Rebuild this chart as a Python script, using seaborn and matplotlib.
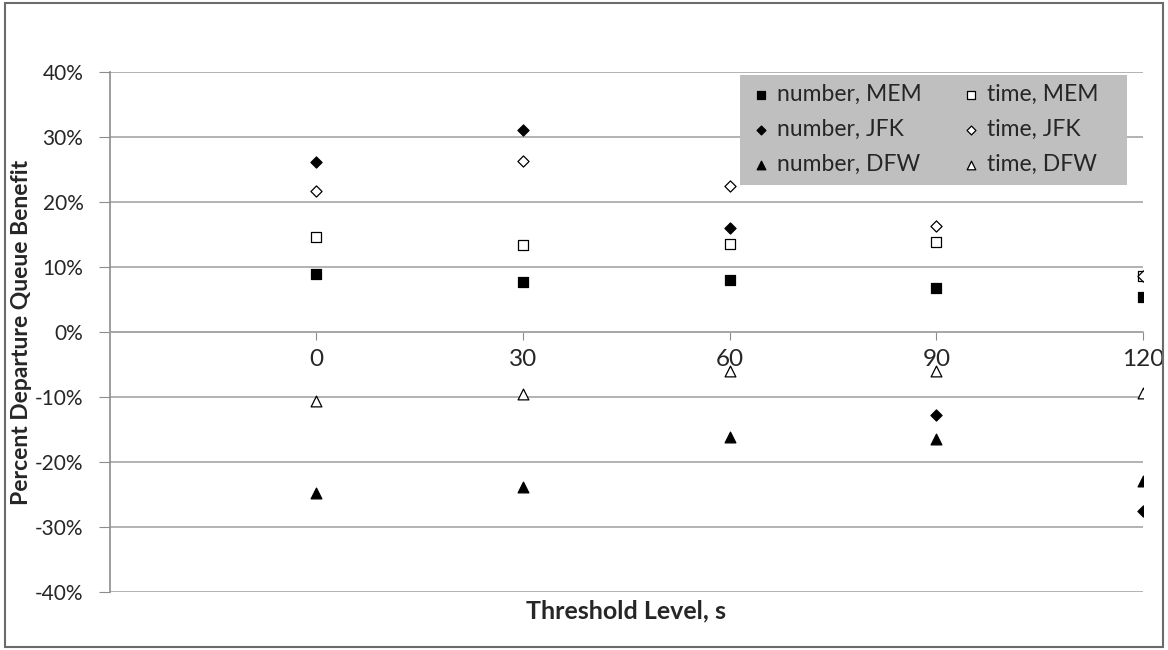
import pandas as pd
import seaborn as sns
from matplotlib import pyplot as plt
from matplotlib import ticker
from matplotlib.patches import Rectangle

# threshold levels (s)
thresholds = [0, 30, 60, 90, 120]

# percent departure queue benefit
number_mem = [8.9, 7.7, 8.0, 6.8, 5.4]
time_mem = [14.7, 13.4, 13.6, 13.8, 8.6]
number_jfk = [26.1, 31.1, 16.0, -12.7, -27.6]
time_jfk = [21.7, 26.3, 22.5, 16.3, 8.6]
number_dfw = [-24.8, -23.9, -16.2, -16.5, -22.9]
time_dfw = [-10.6, -9.6, -6.0, -6.0, -9.3]

series = [
    ('number, MEM', number_mem, 's', 'black', 55),
    ('number, JFK', number_jfk, 'D', 'black', 32),
    ('number, DFW', number_dfw, '^', 'black', 60),
    ('time, MEM', time_mem, 's', 'white', 55),
    ('time, JFK', time_jfk, 'D', 'white', 32),
    ('time, DFW', time_dfw, '^', 'white', 60),
]

sns.set_style('white')
plt.rcParams['font.family'] = ['Lato', 'DejaVu Sans']
plt.rcParams['axes.unicode_minus'] = False

fig = plt.figure(figsize=(11.68, 6.5), dpi=100)
ax = fig.add_axes([0.094, 0.0892, 0.8846, 0.7998])

for name, vals, mk, fc, sz in series:
    df = pd.DataFrame({'x': thresholds, 'y': vals})
    sns.scatterplot(data=df, x='x', y='y', ax=ax, marker=mk, s=sz,
                    color=fc, edgecolor='black', linewidth=0.9,
                    label=name, zorder=3)

ax.set_xlim(-30, 120)
ax.set_ylim(-40, 40)
ax.set_xticks(thresholds)
ax.set_yticks(range(-40, 41, 10))
ax.yaxis.set_major_formatter(ticker.PercentFormatter(100, decimals=0))
ax.yaxis.grid(True, color='#a6a6a6', linewidth=1.2, zorder=0)
ax.set_axisbelow(True)

ax.spines['top'].set_visible(False)
ax.spines['right'].set_visible(False)
ax.spines['bottom'].set_position(('data', 0))
ax.spines['bottom'].set_color('#a6a6a6')
ax.spines['left'].set_color('#8c8c8c')
ax.spines['bottom'].set_linewidth(1.2)
ax.spines['left'].set_linewidth(1.2)

ax.tick_params(axis='x', direction='out', length=6, color='#8c8c8c',
               labelsize=17.5, pad=6, bottom=True)
ax.tick_params(axis='y', direction='out', length=8, color='#8c8c8c',
               labelsize=15, pad=11, left=True)

ax.set_xlabel('Threshold Level, s', fontsize=18, fontweight='bold', labelpad=0)
ax.xaxis.set_label_coords(0.5, -0.015)
ax.xaxis.label.set_verticalalignment('top')
ax.set_ylabel('Percent Departure Queue Benefit', fontsize=16.5, fontweight='bold')
ax.yaxis.set_label_coords(-0.075, 0.5)

# grey legend box, drawn as its own patch so its size matches the original
ax.add_patch(Rectangle((0.61, 0.783), 0.3745, 0.211, transform=ax.transAxes,
                       facecolor='#bfbfbf', edgecolor='none', zorder=4))
leg = ax.legend(ncol=2, loc='upper left', bbox_to_anchor=(0.611, 0.99),
                fontsize=16.5, frameon=False, borderpad=0.3,
                handletextpad=0.15, columnspacing=1.6, labelspacing=0.6,
                handlelength=1.1, markerscale=0.8, borderaxespad=0)
leg.set_zorder(5)

# outer border around the chart area
fig.patches.append(Rectangle((0.004, 0.004), 0.992, 0.992, transform=fig.transFigure,
                             fill=False, edgecolor='#6b6b6b', linewidth=1.5))

plt.savefig('out.png', dpi=100)
